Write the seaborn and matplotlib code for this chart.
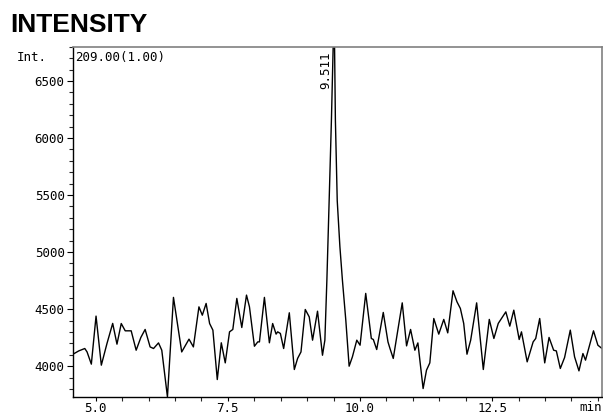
import matplotlib
matplotlib.use("Agg")
import matplotlib.pyplot as plt
from matplotlib.ticker import MultipleLocator
import pandas as pd
import seaborn as sns

# retention time (min) and signal
rt = [
    4.57, 4.679, 4.793, 4.836, 4.917, 5.006, 5.106, 5.213, 5.321, 5.402,
    5.483, 5.558, 5.671, 5.765, 5.854, 5.935, 6.029, 6.094, 6.188, 6.250,
    6.357, 6.471, 6.627, 6.765, 6.848, 6.953, 7.017, 7.089, 7.155, 7.217,
    7.300, 7.376, 7.451, 7.532, 7.594, 7.670, 7.764, 7.853, 7.909, 8.003,
    8.066, 8.098, 8.192, 8.286, 8.348, 8.413, 8.443, 8.494, 8.556, 8.663,
    8.758, 8.820, 8.884, 8.965, 9.040, 9.103, 9.197, 9.291, 9.336, 9.374,
    9.42, 9.46, 9.511, 9.535, 9.57, 9.62, 9.668, 9.732, 9.795, 9.857,
    9.940, 10.002, 10.109, 10.215, 10.253, 10.317, 10.441, 10.530, 10.568, 10.630,
    10.800, 10.882, 10.958, 11.039, 11.096, 11.195, 11.259, 11.322, 11.397, 11.491,
    11.586, 11.661, 11.761, 11.836, 11.900, 11.963, 12.025, 12.095, 12.208, 12.334,
    12.447, 12.534, 12.617, 12.760, 12.835, 12.911, 13.013, 13.056, 13.164, 13.277,
    13.326, 13.401, 13.496, 13.578, 13.665, 13.716, 13.791, 13.872, 13.980, 14.061,
    14.144, 14.219, 14.268, 14.419, 14.502, 14.58,
]
intensity = [
    4105, 4134, 4155, 4125, 4018, 4439, 4009, 4199, 4375, 4193,
    4374, 4310, 4310, 4140, 4252, 4322, 4169, 4155, 4204, 4140,
    3731, 4603, 4125, 4237, 4169, 4520, 4447, 4550, 4374, 4316,
    3883, 4205, 4029, 4301, 4322, 4594, 4339, 4623, 4520, 4175,
    4213, 4213, 4603, 4205, 4374, 4281, 4301, 4287, 4155, 4468,
    3971, 4068, 4125, 4497, 4432, 4228, 4482, 4096, 4228, 4754,
    5500, 6158, 7150, 6158, 5450, 5050, 4754, 4404, 4000, 4082,
    4228, 4184, 4638, 4243, 4234, 4146, 4471, 4213, 4155, 4068,
    4555, 4178, 4322, 4140, 4204, 3804, 3965, 4029, 4418, 4281,
    4410, 4292, 4661, 4564, 4506, 4375, 4105, 4228, 4555, 3971,
    4410, 4243, 4375, 4476, 4351, 4491, 4234, 4301, 4038, 4213,
    4243, 4418, 4029, 4252, 4140, 4134, 3980, 4076, 4316, 4082,
    3959, 4111, 4053, 4310, 4184, 4155,
]

peak_rt = 9.511
peak_label = "9.511"
channel = "209.00(1.00)"
x_major = [5.0, 7.5, 10.0, 12.5]
x_labels = ["5.0", "7.5", "10.0", "12.5"]
y_major = [4000, 4500, 5000, 5500, 6000, 6500]

sns.set_style("ticks")
plt.rcParams["font.family"] = ["DejaVu Sans Mono", "DejaVu Sans"]
plt.rcParams["text.color"] = "black"
plt.rcParams["lines.solid_joinstyle"] = "round"

df = pd.DataFrame({"rt": rt, "intensity": intensity})

fig = plt.figure(figsize=(6.03, 4.16), dpi=100)
ax = fig.add_axes([73 / 603, 1 - 397 / 416, 529 / 603, (397 - 46.7) / 416])

sns.lineplot(data=df, x="rt", y="intensity", sort=False, estimator=None,
             color="black", linewidth=1.0, ax=ax)

ax.set_xlim(4.57, 14.58)
ax.set_ylim(3730, 6800)

ax.set_xticks(x_major)
ax.set_xticklabels(x_labels)
ax.xaxis.set_minor_locator(MultipleLocator(0.5))
ax.set_yticks(y_major)
ax.yaxis.set_minor_locator(MultipleLocator(100))
ax.tick_params(axis="both", which="major", labelsize=9, width=0.8,
               direction="out", colors="black")
ax.tick_params(axis="x", which="major", length=3, pad=0.5)
ax.tick_params(axis="y", which="major", length=4, pad=2)
ax.tick_params(axis="both", which="minor", length=3, width=0.8, direction="out")
ax.set_xlabel("")
ax.set_ylabel("")

for side in ["left", "bottom"]:
    ax.spines[side].set_color("black")
    ax.spines[side].set_linewidth(1.0)
for side in ["top", "right"]:
    ax.spines[side].set_visible(True)
    ax.spines[side].set_color("#808080")
    ax.spines[side].set_linewidth(1.2)

ax.annotate(peak_label, xy=(peak_rt, 6800), xytext=(-1.5, -3.5), textcoords="offset points",
            rotation=90, ha="right", va="top", fontsize=9)

fig.text(10 / 603, 1 - 32 / 416, "INTENSITY", family="Liberation Sans",
         fontweight="bold", fontsize=19, color="black", ha="left", va="baseline")
fig.text(47 / 603, 1 - 61 / 416, "Int.", ha="right", va="baseline", fontsize=9)
fig.text(75 / 603, 1 - 61 / 416, channel, ha="left", va="baseline", fontsize=9)
fig.text(602 / 603, 1 - 411 / 416, "min", ha="right", va="baseline", fontsize=9)

fig.savefig("out.png", dpi=100)
